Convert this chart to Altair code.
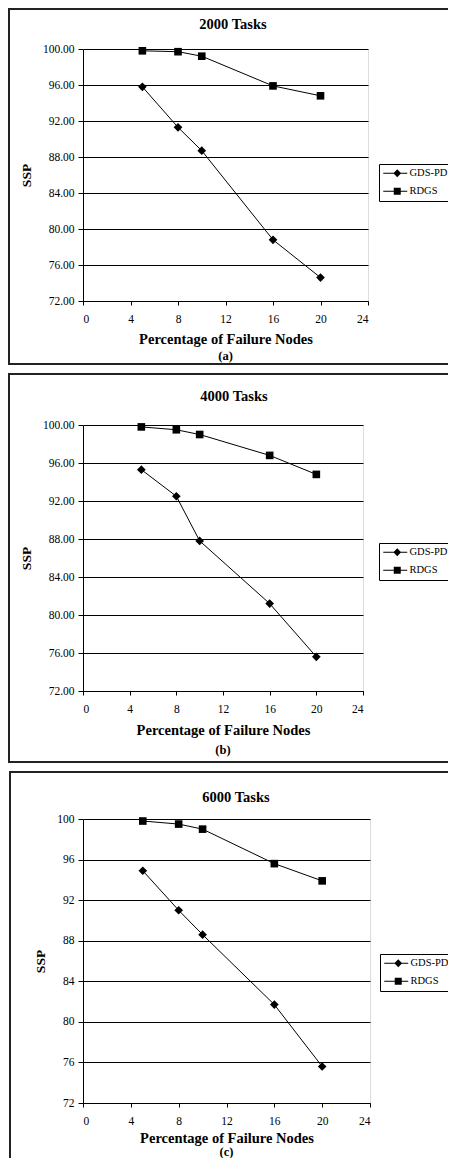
import altair as alt
import pandas as pd

# ---------------- data ----------------
failure_pct = [5, 8, 10, 16, 20]
series_names = ["GDS-PD", "RDGS"]
panel_titles = ["2000 Tasks", "4000 Tasks", "6000 Tasks"]
panel_captions = ["(a)", "(b)", "(c)"]
x_title = "Percentage of Failure Nodes"
y_title = "SSP"

gds_2000 = [95.8, 91.3, 88.7, 78.8, 74.6]
rdgs_2000 = [99.8, 99.7, 99.2, 95.9, 94.8]
gds_4000 = [95.3, 92.5, 87.8, 81.2, 75.6]
rdgs_4000 = [99.8, 99.5, 99.0, 96.8, 94.8]
gds_6000 = [94.9, 91.0, 88.6, 81.7, 75.6]
rdgs_6000 = [99.8, 99.5, 99.0, 95.6, 93.9]

x_ticks = [0, 4, 8, 12, 16, 20, 24]
y_ticks = [72, 76, 80, 84, 88, 92, 96, 100]
y_formats = [".2f", ".2f", "d"]

# ---------------- style / layout ----------------
FONT = "Liberation Serif"
FRAME = "#222222"

# legend symbols: a short line with the marker on it (unit = 5px at symbolSize 100)
legend_paths = [
    "M-1,-0.1H3.8V0.1H-1ZM1.8,-0.78L2.58,0L1.8,0.78L1.02,0Z",
    "M-1,-0.1H3.8V0.1H-1ZM1.1,-0.7H2.5V0.7H1.1Z",
]

layouts = [
    dict(w=285, h=252, fl=-74, ft=-40, fb=315, fr=392, tx=150, ty=-24, xtp=8, cap=307, lx=296, ly=115),
    dict(w=280, h=266, fl=-74, ft=-51, fb=337, fr=392, tx=151, ty=-28.3, xtp=9, cap=325, lx=296, ly=118),
    dict(w=287, h=284, fl=-73, ft=-47, fb=None, lb=338, fr=393, tx=153, ty=-21.3, xtp=5, cap=333, lx=297, ly=135),
]


def panel(i, gds, rdgs):
    L = layouts[i]
    df = pd.DataFrame({
        "pct": failure_pct + failure_pct,
        "ssp": gds + rdgs,
        "series": [series_names[0]] * len(gds) + [series_names[1]] * len(rdgs),
    })
    x = alt.X("pct:Q",
              scale=alt.Scale(domain=[0, 24], nice=False, zero=False),
              axis=alt.Axis(values=x_ticks, title=x_title, grid=False, tickSize=4,
                            labelPadding=8, titlePadding=L["xtp"], format="d"))
    y = alt.Y("ssp:Q",
              scale=alt.Scale(domain=[72, 100], nice=False, zero=False),
              axis=alt.Axis(values=y_ticks, format=y_formats[i], title=y_title, grid=True,
                            tickSize=5, labelPadding=4, titlePadding=9))
    base = alt.Chart(df)
    lines = base.mark_line(color="black", strokeWidth=1).encode(x=x, y=y, detail="series:N")
    pts_g = base.transform_filter(alt.datum.series == series_names[0]).mark_point(
        shape="diamond", filled=True, color="black", opacity=1, size=75).encode(x=x, y=y)
    pts_r = base.transform_filter(alt.datum.series == series_names[1]).mark_point(
        shape="square", filled=True, color="black", opacity=1, size=58).encode(x=x, y=y)
    leg = base.transform_filter("false").mark_point(filled=True, color="black", opacity=1).encode(
        x=x, y=y,
        shape=alt.Shape("series:N",
                        scale=alt.Scale(domain=series_names, range=legend_paths),
                        legend=alt.Legend(title=None, orient="none", legendX=L["lx"], legendY=L["ly"],
                                          strokeColor="black", padding=4, labelFont=FONT,
                                          labelFontSize=10.5, labelColor="black", symbolSize=100,
                                          labelOffset=16, rowPadding=7, symbolStrokeWidth=0,
                                          symbolFillColor="black", symbolStrokeColor="black",
                                          symbolOpacity=1)))

    deco = alt.Chart(alt.Data(values=[{"k": 0}]))
    rule = dict(color=FRAME, strokeWidth=2, strokeCap="square")
    left_end = L["fb"] if L["fb"] is not None else L["lb"]
    top = deco.mark_rule(**rule).encode(x=alt.value(L["fl"]), x2=alt.value(L["fr"]), y=alt.value(L["ft"]))
    left = deco.mark_rule(**rule).encode(x=alt.value(L["fl"]), y=alt.value(L["ft"]), y2=alt.value(left_end))
    layers = [top, left]
    if L["fb"] is not None:
        layers.append(deco.mark_rule(**rule).encode(x=alt.value(L["fl"]), x2=alt.value(L["fr"]),
                                                    y=alt.value(L["fb"])))
    title = deco.mark_text(font=FONT, fontSize=14.5, fontWeight="bold", baseline="middle",
                           align="center", color="black").encode(
        x=alt.value(L["tx"]), y=alt.value(L["ty"]), text=alt.value(panel_titles[i]))
    cap = deco.mark_text(font=FONT, fontSize=12.5, fontWeight="bold", baseline="middle",
                         align="center", color="black").encode(
        x=alt.value(L["w"] / 2), y=alt.value(L["cap"]), text=alt.value(panel_captions[i]))

    return alt.layer(*layers, lines, pts_g, pts_r, leg, title, cap).properties(
        width=L["w"], height=L["h"])


chart = alt.vconcat(
    panel(0, gds_2000, rdgs_2000),
    panel(1, gds_4000, rdgs_4000),
    panel(2, gds_6000, rdgs_6000),
    spacing=6,
).resolve_scale(shape="independent", x="independent", y="independent").resolve_legend(
    shape="independent"
).properties(
    padding={"left": -1, "top": -1, "right": -30, "bottom": -1}
).configure_view(stroke=None).configure(
    background="white", font=FONT
).configure_axis(
    domainColor="black", domainWidth=1, tickColor="black", tickWidth=1,
    labelColor="black", labelFont=FONT, labelFontSize=11.5,
    titleColor="black", titleFont=FONT, titleFontSize=14.5, titleFontWeight="bold",
    gridColor="black", gridOpacity=1, gridWidth=1,
).configure_axisY(titleFontSize=13.5)

chart.save("out.html", embed_options={"renderer": "svg", "actions": False})
